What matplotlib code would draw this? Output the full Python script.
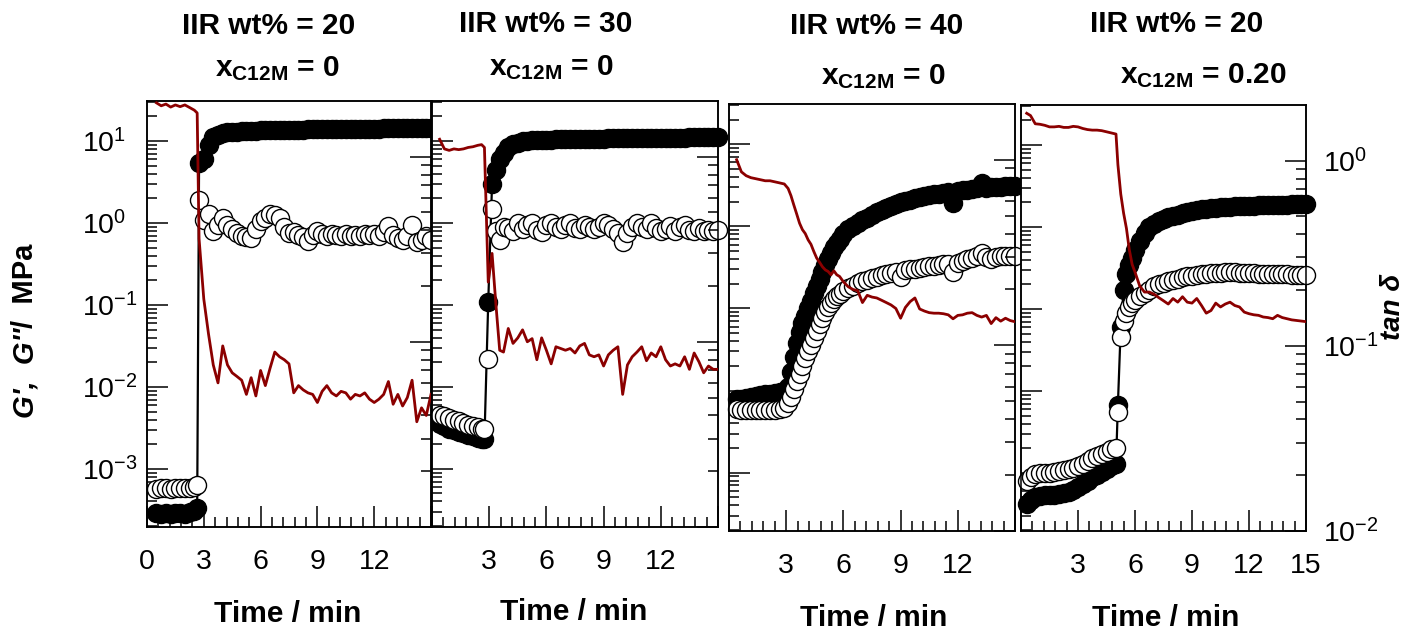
import numpy as np
import matplotlib
matplotlib.use('Agg')
import matplotlib.pyplot as plt
from matplotlib.ticker import LogLocator, MultipleLocator, NullFormatter

plt.rcParams['font.family'] = 'Liberation Sans'
plt.rcParams['mathtext.fontset'] = 'custom'
plt.rcParams['mathtext.rm'] = 'Liberation Sans'
plt.rcParams['mathtext.bf'] = 'Liberation Sans:bold'
plt.rcParams['mathtext.it'] = 'Liberation Sans:italic'
plt.rcParams['axes.unicode_minus'] = False

# ---- data (time in min, moduli in MPa) ----
# panel 1: IIR 20 wt%, x_C12M = 0
t1 = [0.5, 0.75, 1.0, 1.25, 1.5, 1.75, 2.0, 2.25, 2.5, 2.65,
      2.75, 3.0, 3.25, 3.5, 3.75, 4.0, 4.25, 4.5, 4.75, 5.0,
      5.25, 5.5, 5.75, 6.0, 6.25, 6.5, 6.75, 7.0, 7.25, 7.5,
      7.75, 8.0, 8.25, 8.5, 8.75, 9.0, 9.25, 9.5, 9.75, 10.0,
      10.25, 10.5, 10.75, 11.0, 11.25, 11.5, 11.75, 12.0, 12.25, 12.5,
      12.75, 13.0, 13.25, 13.5, 13.75, 14.0, 14.25, 14.5, 14.75, 15.0]
gp1 = [2.9e-4, 2.8e-4, 2.9e-4, 2.8e-4, 2.9e-4, 2.9e-4, 2.8e-4, 3.0e-4, 3.1e-4, 3.3e-4,
       5.4, 6.0, 9.0, 11.2, 12.0, 12.5, 12.8, 13.0, 13.1, 13.2,
       13.3, 13.4, 13.4, 13.5, 13.5, 13.6, 13.6, 13.7, 13.7, 13.7,
       13.8, 13.8, 13.8, 13.9, 13.9, 13.9, 14.0, 14.0, 14.0, 14.0,
       14.1, 14.1, 14.1, 14.1, 14.2, 14.2, 14.2, 14.2, 14.2, 14.3,
       14.3, 14.3, 14.3, 14.3, 14.3, 14.4, 14.4, 14.4, 14.4, 14.4]
gpp1 = [5.7e-4, 5.8e-4, 5.8e-4, 5.7e-4, 5.8e-4, 5.8e-4, 5.9e-4, 5.9e-4, 6.0e-4, 6.4e-4,
        1.9, 1.1, 1.3, 0.8, 0.95, 1.15, 0.95, 0.85, 0.75, 0.7,
        0.68, 0.66, 0.85, 1.05, 1.15, 1.3, 1.25, 1.15, 0.9, 0.75,
        0.78, 0.72, 0.68, 0.6, 0.72, 0.8, 0.74, 0.7, 0.74, 0.72,
        0.7, 0.74, 0.7, 0.72, 0.7, 0.74, 0.72, 0.74, 0.7, 0.78,
        0.92, 0.72, 0.66, 0.62, 0.7, 0.95, 0.58, 0.62, 0.7, 0.62]
tan1 = [1.95, 1.88, 1.92, 1.85, 1.9, 1.86, 1.9, 1.84, 1.78, 1.72,
        0.36, 0.17, 0.11, 0.075, 0.06, 0.095, 0.075, 0.068, 0.065, 0.062,
        0.052, 0.064, 0.051, 0.07, 0.058, 0.072, 0.088, 0.083, 0.08, 0.076,
        0.053, 0.058, 0.055, 0.053, 0.052, 0.047, 0.054, 0.058, 0.053, 0.051,
        0.054, 0.053, 0.049, 0.052, 0.051, 0.053, 0.049, 0.047, 0.049, 0.052,
        0.061, 0.046, 0.052, 0.045, 0.05, 0.062, 0.037, 0.044, 0.04, 0.052]

# panel 2: IIR 30 wt%, x_C12M = 0
t2 = [0.4, 0.65, 0.9, 1.15, 1.4, 1.65, 1.9, 2.15, 2.4, 2.6, 2.75,
      2.95, 3.15, 3.35, 3.55, 3.75,
      4.0, 4.25, 4.5, 4.75, 5.0, 5.25, 5.5, 5.75, 6.0, 6.25,
      6.5, 6.75, 7.0, 7.25, 7.5, 7.75, 8.0, 8.25, 8.5, 8.75,
      9.0, 9.25, 9.5, 9.75, 10.0, 10.25, 10.5, 10.75, 11.0, 11.25,
      11.5, 11.75, 12.0, 12.25, 12.5, 12.75, 13.0, 13.25, 13.5, 13.75,
      14.0, 14.25, 14.5, 14.75, 15.0]
gp2 = [3.5e-3, 3.3e-3, 3.1e-3, 3.0e-3, 2.85e-3, 2.7e-3, 2.6e-3, 2.5e-3, 2.4e-3, 2.3e-3, 2.3e-3,
       0.11, 3.0, 4.5, 6.0, 7.2,
       8.4, 9.1, 9.6, 9.9, 10.1, 10.2, 10.3, 10.3, 10.4, 10.4,
       10.5, 10.5, 10.5, 10.6, 10.6, 10.6, 10.6, 10.7, 10.7, 10.7,
       10.7, 10.8, 10.8, 10.8, 10.8, 10.8, 10.9, 10.9, 10.9, 10.9,
       10.9, 10.9, 11.0, 11.0, 11.0, 11.0, 11.0, 11.0, 11.1, 11.1,
       11.1, 11.1, 11.1, 11.1, 11.1]
gpp2 = [4.6e-3, 4.4e-3, 4.2e-3, 4.0e-3, 3.8e-3, 3.6e-3, 3.45e-3, 3.3e-3, 3.2e-3, 3.1e-3, 3.1e-3,
        0.022, 1.5, 0.8, 0.62, 0.9,
        0.88, 0.8, 1.0, 0.85, 0.95, 1.0, 0.82, 0.78, 0.95, 1.0,
        0.9, 0.85, 0.95, 1.0, 0.88, 0.85, 0.95, 0.9, 0.85, 0.9,
        1.0, 0.95, 0.85, 0.75, 0.58, 0.75, 0.9, 1.0, 0.9, 0.85,
        1.0, 0.88, 0.8, 0.85, 0.92, 0.8, 0.9, 0.95, 0.82, 0.8,
        0.88, 0.8, 0.82, 0.8, 0.82]
tan2 = [1.24, 1.1, 1.08, 1.1, 1.09, 1.1, 1.12, 1.13, 1.15, 1.16, 1.12,
        0.21, 0.30, 0.16, 0.09, 0.088,
        0.118, 0.098, 0.105, 0.116, 0.1, 0.104, 0.08, 0.105, 0.09, 0.076,
        0.094, 0.092, 0.09, 0.092, 0.087, 0.095, 0.098, 0.085, 0.083, 0.085,
        0.074, 0.085, 0.09, 0.094, 0.052, 0.075, 0.083, 0.088, 0.094, 0.079,
        0.087, 0.083, 0.094, 0.08, 0.074, 0.076, 0.074, 0.083, 0.071, 0.087,
        0.078, 0.068, 0.074, 0.071, 0.071]

# panel 3: IIR 40 wt%, x_C12M = 0
t3 = [0.4, 0.65, 0.9, 1.15, 1.4, 1.65, 1.9, 2.15, 2.4, 2.65, 2.9,
      3.1, 3.25, 3.4, 3.55, 3.7, 3.85, 4.0, 4.15, 4.3, 4.45,
      4.6, 4.75, 4.9, 5.05, 5.2, 5.35, 5.5, 5.65, 5.8,
      6.0, 6.25, 6.5, 6.75, 7.0, 7.25, 7.5, 7.75, 8.0, 8.25,
      8.5, 8.75, 9.0, 9.25, 9.5, 9.75, 10.0, 10.25, 10.5, 10.75,
      11.0, 11.25, 11.5, 11.75, 12.0, 12.25, 12.5, 12.75, 13.0, 13.25,
      13.5, 13.75, 14.0, 14.25, 14.5, 14.75, 15.0]
gp3 = [7.8e-3, 8.0e-3, 8.2e-3, 8.4e-3, 8.6e-3, 8.8e-3, 9.0e-3, 9.2e-3, 9.4e-3, 9.6e-3, 9.8e-3,
       0.011, 0.017, 0.026, 0.038, 0.052, 0.066, 0.082, 0.10, 0.125, 0.155,
       0.19, 0.23, 0.28, 0.34, 0.40, 0.47, 0.56, 0.63, 0.70,
       0.80, 0.92, 1.02, 1.10, 1.2, 1.28, 1.38, 1.5, 1.6, 1.68,
       1.78, 1.88, 1.98, 2.05, 2.12, 2.2, 2.26, 2.32, 2.38, 2.45,
       2.5, 2.55, 2.6, 1.9, 2.7, 2.75, 2.8, 2.85, 2.9, 3.4,
       2.95, 3.0, 3.02, 3.05, 3.08, 3.1, 3.1]
gpp3 = [5.9e-3, 5.8e-3, 5.8e-3, 5.8e-3, 5.8e-3, 5.8e-3, 5.8e-3, 5.8e-3, 5.8e-3, 5.9e-3, 6.1e-3,
        7.0e-3, 8.3e-3, 0.0105, 0.013, 0.016, 0.020, 0.025, 0.030, 0.036, 0.044,
        0.053, 0.064, 0.076, 0.09, 0.105, 0.118, 0.13, 0.14, 0.15,
        0.165, 0.178, 0.19, 0.205, 0.215, 0.225, 0.235, 0.245, 0.255, 0.265,
        0.27, 0.275, 0.245, 0.29, 0.30, 0.305, 0.31, 0.32, 0.325, 0.33,
        0.34, 0.345, 0.35, 0.28, 0.36, 0.38, 0.40, 0.41, 0.43, 0.48,
        0.42, 0.40, 0.42, 0.43, 0.44, 0.44, 0.43]
tan3 = [1.0, 0.86, 0.82, 0.80, 0.79, 0.78, 0.77, 0.77, 0.76, 0.75, 0.74,
        0.70, 0.64, 0.57, 0.51, 0.455, 0.42, 0.40, 0.37, 0.35, 0.32,
        0.295, 0.28, 0.265, 0.255, 0.25, 0.24, 0.252, 0.24, 0.235,
        0.22, 0.207, 0.20, 0.197, 0.17, 0.186, 0.182, 0.18, 0.175, 0.17,
        0.165, 0.158, 0.14, 0.16, 0.172, 0.18, 0.157, 0.153, 0.15, 0.149,
        0.149, 0.148, 0.146, 0.139, 0.145, 0.146, 0.149, 0.15, 0.145, 0.142,
        0.145, 0.131, 0.141, 0.135, 0.14, 0.136, 0.134]

# panel 4: IIR 20 wt%, x_C12M = 0.20
t4 = [0.3, 0.5, 0.75, 1.0, 1.25, 1.5, 1.75, 2.0, 2.25, 2.5,
      2.75, 3.0, 3.25, 3.5, 3.75, 4.0, 4.25, 4.5, 4.75, 5.0,
      5.1, 5.25, 5.4, 5.55, 5.7, 5.85, 6.0,
      6.25, 6.5, 6.75, 7.0, 7.25, 7.5, 7.75, 8.0, 8.25, 8.5,
      8.75, 9.0, 9.25, 9.5, 9.75, 10.0, 10.25, 10.5, 10.75, 11.0,
      11.25, 11.5, 11.75, 12.0, 12.25, 12.5, 12.75, 13.0, 13.25, 13.5,
      13.75, 14.0, 14.25, 14.5, 14.75, 15.0]
gp4 = [4.2e-4, 4.6e-4, 5.0e-4, 5.2e-4, 5.3e-4, 5.3e-4, 5.4e-4, 5.5e-4, 5.6e-4, 5.8e-4,
       6.2e-4, 6.7e-4, 7.3e-4, 8.0e-4, 8.8e-4, 9.5e-4, 1.03e-3, 1.1e-3, 1.2e-3, 1.3e-3,
       6.8e-3, 0.06, 0.17, 0.27, 0.34, 0.42, 0.52,
       0.68, 0.85, 1.0, 1.1, 1.18, 1.25, 1.31, 1.37, 1.42, 1.48,
       1.53, 1.58, 1.62, 1.65, 1.68, 1.71, 1.73, 1.75, 1.77, 1.78,
       1.79, 1.8, 1.81, 1.82, 1.83, 1.84, 1.85, 1.86, 1.86, 1.87,
       1.88, 1.88, 1.89, 1.89, 1.9, 1.9]
gpp4 = [8.0e-4, 9.0e-4, 9.6e-4, 1.0e-3, 1.0e-3, 1.0e-3, 1.02e-3, 1.05e-3, 1.07e-3, 1.1e-3,
        1.15e-3, 1.22e-3, 1.3e-3, 1.4e-3, 1.5e-3, 1.6e-3, 1.7e-3, 1.8e-3, 1.95e-3, 2.0e-3,
        5.6e-3, 0.045, 0.072, 0.09, 0.107, 0.12, 0.13,
        0.143, 0.157, 0.172, 0.19, 0.2, 0.21, 0.22, 0.228, 0.235, 0.243,
        0.25, 0.255, 0.26, 0.265, 0.27, 0.272, 0.275, 0.278, 0.28, 0.28,
        0.28, 0.278, 0.275, 0.273, 0.272, 0.27, 0.27, 0.268, 0.267, 0.266,
        0.265, 0.264, 0.263, 0.262, 0.262, 0.26]
tan4 = [1.8, 1.75, 1.58, 1.57, 1.55, 1.52, 1.52, 1.53, 1.51, 1.51,
        1.53, 1.52, 1.49, 1.47, 1.46, 1.46, 1.45, 1.43, 1.41, 1.39,
        0.95, 0.66, 0.52, 0.43, 0.33, 0.275, 0.25,
        0.21, 0.195, 0.195, 0.19, 0.182, 0.175, 0.168, 0.18, 0.172, 0.184,
        0.172, 0.17, 0.18, 0.165, 0.15, 0.155, 0.17, 0.162, 0.168, 0.172,
        0.165, 0.162, 0.152, 0.149, 0.147, 0.146, 0.143, 0.142, 0.14, 0.146,
        0.142, 0.14, 0.138, 0.137, 0.136, 0.135]

titles_top = ['IIR wt% = 20', 'IIR wt% = 30', 'IIR wt% = 40', 'IIR wt% = 20']
x_c12m = ['0', '0', '0', '0.20']
xtick_labels = [['0', '3', '6', '9', '12', ''],
                ['', '3', '6', '9', '12', ''],
                ['', '3', '6', '9', '12', ''],
                ['', '3', '6', '9', '12', '15']]
g_ticks = [1e-3, 1e-2, 1e-1, 1e0, 1e1]
g_labels = [r'$\mathdefault{10^{-3}}$', r'$\mathdefault{10^{-2}}$', r'$\mathdefault{10^{-1}}$',
            r'$\mathdefault{10^{0}}$', r'$\mathdefault{10^{1}}$']
tan_ticks = [1e-2, 1e-1, 1e0]
tan_labels = [r'$\mathdefault{10^{-2}}$', r'$\mathdefault{10^{-1}}$', r'$\mathdefault{10^{0}}$']

series = [(t1, gp1, gpp1, tan1), (t2, gp2, gpp2, tan2),
          (t3, gp3, gpp3, tan3), (t4, gp4, gpp4, tan4)]

# ---- layout in pixels ----
W, H = 1408, 631
boxes = [(147, 431, 101, 527), (432, 718, 101, 527),
         (729, 1015, 104, 531), (1021, 1306, 105, 531)]
top_pos = [(269, 26), (546, 24), (877, 26), (1177, 24)]
sub_pos = [(277, 76), (551, 75), (883, 84), (1203, 83)]
xlab_pos = [(288, 614), (574, 612), (874, 618), (1166, 618)]


def rect(l, r, t, b):
    return [l / W, 1 - b / H, (r - l) / W, (b - t) / H]


fig = plt.figure(figsize=(W / 100, H / 100), dpi=100)
dark_red = '#8b0000'
tick_fs = 20.5

for i, (t, gp, gpp, td) in enumerate(series):
    ax = fig.add_axes(rect(*boxes[i]))
    ax.plot(t, gp, '-o', color='k', lw=1.6, ms=13, mfc='k', mec='k', mew=1,
            clip_on=False, zorder=3)
    ax.plot(t, gpp, 'o', ls='none', ms=13, mfc='white', mec='k', mew=1,
            clip_on=False, zorder=4)
    ax.set_xlim(0, 15)
    ax.set_yscale('log')
    ax.set_ylim(10 ** -3.71, 10 ** 1.49)
    ax.xaxis.set_major_locator(MultipleLocator(3))
    ax.xaxis.set_minor_locator(MultipleLocator(0.6))
    ax.set_xticks([0, 3, 6, 9, 12, 15], labels=xtick_labels[i], fontsize=tick_fs)
    ax.yaxis.set_minor_locator(LogLocator(base=10, subs=np.arange(2, 10), numticks=20))
    ax.yaxis.set_minor_formatter(NullFormatter())
    if i == 0:
        ax.set_yticks(g_ticks, labels=g_labels, fontsize=tick_fs, ha='left')
        ax.tick_params(axis='y', which='major', pad=46.5)
    else:
        ax.set_yticks(g_ticks)
        ax.tick_params(axis='y', labelleft=False)
    ax.tick_params(which='both', direction='in', top=False, right=False, width=1.1)
    ax.tick_params(which='major', length=15)
    ax.tick_params(which='minor', length=7.5)
    ax.tick_params(axis='x', which='major', pad=16)
    for s in ax.spines.values():
        s.set_linewidth(1.1)

    tw = ax.twinx()
    tw.plot(t, td, color=dark_red, lw=2.0, zorder=5)
    tw.set_yscale('log')
    tw.set_ylim(0.01, 10 ** 0.30)
    tw.yaxis.set_minor_locator(LogLocator(base=10, subs=np.arange(2, 10), numticks=20))
    tw.yaxis.set_minor_formatter(NullFormatter())
    if i == 3:
        tw.set_yticks(tan_ticks, labels=tan_labels, fontsize=tick_fs)
        tw.tick_params(axis='y', which='major', pad=12)
    else:
        tw.set_yticks(tan_ticks)
        tw.tick_params(axis='y', labelright=False)
    tw.tick_params(which='both', direction='in', left=False, right=True, width=1.1)
    tw.tick_params(which='major', length=15)
    tw.tick_params(which='minor', length=7.5)
    for s in tw.spines.values():
        s.set_linewidth(1.1)

    x, y = top_pos[i]
    fig.text(x / W, 1 - y / H, titles_top[i], ha='center', va='center',
             fontsize=21.5, fontweight='bold')
    x, y = sub_pos[i]
    fig.text(x / W, 1 - y / H, r'$\mathbf{x_{C12M}}$ = ' + x_c12m[i], ha='center',
             va='baseline', fontsize=21.5, fontweight='bold')
    x, y = xlab_pos[i]
    fig.text(x / W, 1 - y / H, 'Time / min', ha='center', va='center',
             fontsize=21.5, fontweight='bold')

# axis titles
fig.text(25 / W, 1 - 418 / H, "G',  G''", rotation=90, ha='center', va='bottom',
         fontsize=21, fontweight='bold', fontstyle='italic')
fig.text(25 / W, 1 - 328 / H, "/  MPa", rotation=90, ha='center', va='bottom',
         fontsize=21, fontweight='bold')
fig.text(1393 / W, 1 - 307 / H, 'tan δ', rotation=90, ha='center', va='center',
         fontsize=20, fontweight='bold', fontstyle='italic')

fig.savefig('out.png', dpi=100)
